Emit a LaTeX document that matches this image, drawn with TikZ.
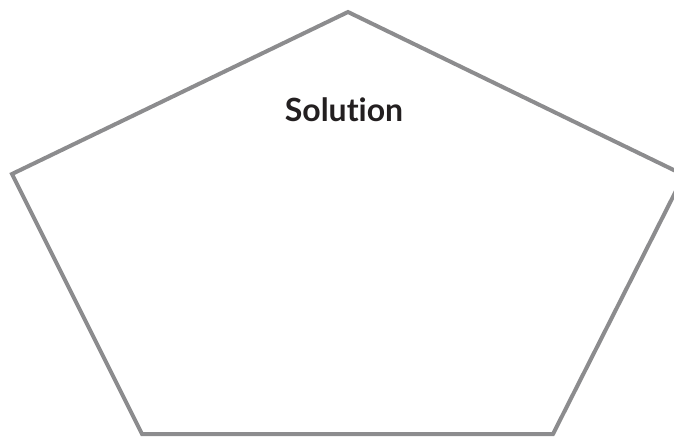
\documentclass[tikz,border=0pt]{standalone}
\usepackage{fontspec}
\setsansfont[Ligatures={NoCommon,NoContextual}]{Lato}
\definecolor{edgegray}{RGB}{140,140,142}
\definecolor{textdark}{RGB}{35,31,32}
\begin{document}
\begin{tikzpicture}[x=1pt,y=-1pt,
  pent/.style={draw=edgegray,line width=4pt,line join=miter},
  title/.style={font=\sffamily\bfseries\fontsize{32}{36}\selectfont,text=textdark}]
\useasboundingbox (0,0) rectangle (674,436);
\begin{scope}
\clip (0,0) rectangle (674,436);
\coordinate (t) at (348,12);
\coordinate (l) at (12,174);
\coordinate (r) at (684,175);
\coordinate (br) at (553,434);
\coordinate (bl) at (142,434);
\draw[pent] (t) -- (r) -- (br) -- (bl) -- (l) -- cycle;
\end{scope}
\node[title] (sol) at (344,110) {Solution};
\end{tikzpicture}
\end{document}
